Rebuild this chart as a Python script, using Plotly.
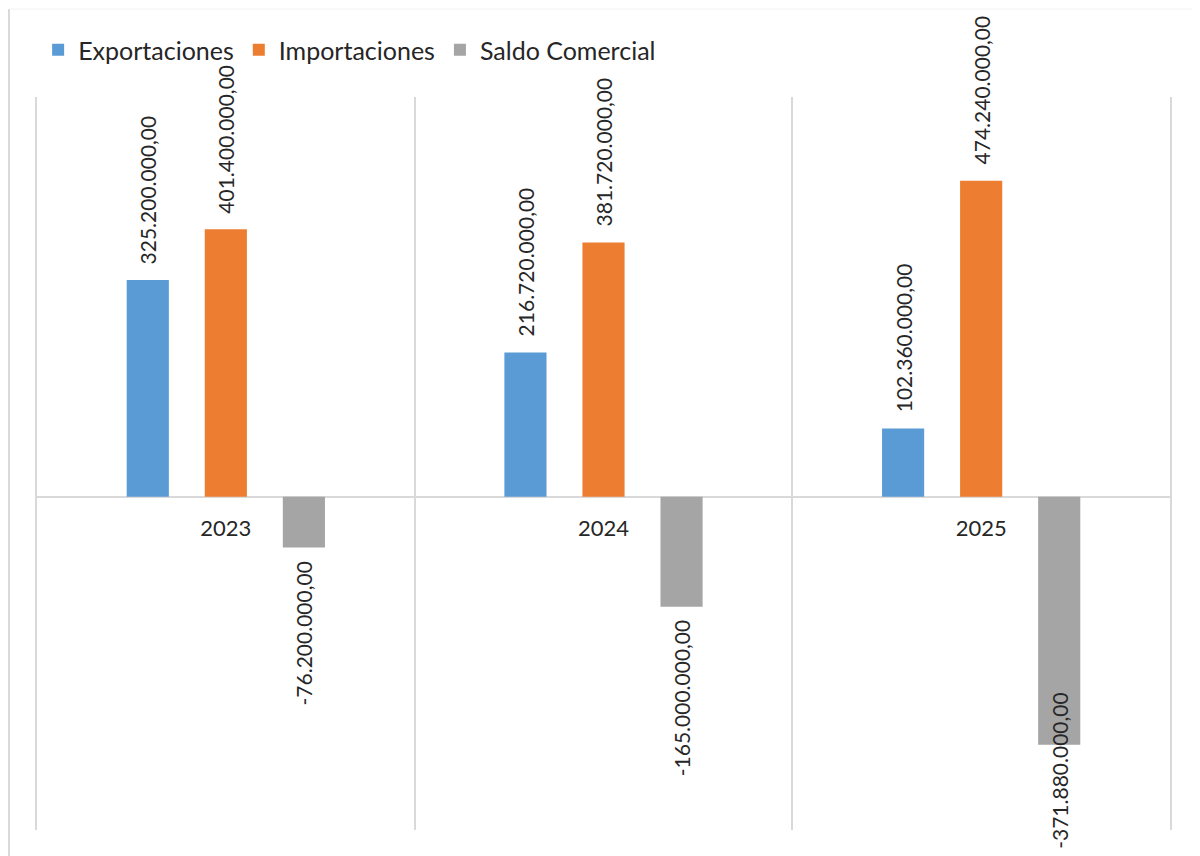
import plotly.graph_objects as go

years = ["2023", "2024", "2025"]
exportaciones = [325_200_000.00, 216_720_000.00, 102_360_000.00]
importaciones = [401_400_000.00, 381_720_000.00, 474_240_000.00]
saldo = [-76_200_000.00, -165_000_000.00, -371_880_000.00]

COLORS = ["#5B9BD5", "#ED7D31", "#A5A5A5"]
FONT = "Lato, 'Open Sans', sans-serif"
TXT = "#262626"
SLOT = 78  # px between bar centres inside a group


def fmt(v):
    # Spanish number format: 325.200.000,00
    s = f"{v:,.2f}"
    return s.replace(",", "X").replace(".", ",").replace("X", ".")


fig = go.Figure()
series = [("Exportaciones", exportaciones), ("Importaciones", importaciones), ("Saldo Comercial", saldo)]
for i, (name, vals) in enumerate(series):
    fig.add_trace(go.Bar(
        x=years, y=vals, name=name,
        marker=dict(color=COLORS[i], line=dict(width=0)),
        hovertemplate="%{x}: %{y:,.2f}<extra>" + name + "</extra>",
    ))
    # value labels, rotated, a bit off the bar end (like the Excel original)
    for j, v in enumerate(vals):
        if v >= 0:
            anchor, shift = "bottom", 14
        elif v < -300_000_000:
            # no room below the plot: label pulled back over the bar end
            anchor, shift = "middle", -26
        else:
            anchor, shift = "top", -12
        fig.add_annotation(
            x=j, y=v, text=fmt(v), textangle=-90, showarrow=False,
            xanchor="center", yanchor=anchor, xshift=(i - 1) * SLOT, yshift=shift,
            font=dict(family=FONT, size=21, color=TXT),
        )

# outer chart border (left/top)
fig.add_shape(type="line", xref="paper", yref="paper", x0=-0.0247, x1=-0.0247, y0=-0.06, y1=1.12,
              line=dict(color="#d9d9d9", width=2))
fig.add_shape(type="line", xref="paper", yref="paper", x0=-0.0247, x1=1.05, y0=1.12, y1=1.12,
              line=dict(color="#f2f2f2", width=1))

last = len(years) - 1
fig.update_layout(
    width=1200, height=856,
    margin=dict(l=29, r=38, t=89, b=34, autoexpand=False),
    paper_bgcolor="white", plot_bgcolor="white",
    barmode="group", bargap=0.38, bargroupgap=0.46,
    font=dict(family=FONT, color=TXT),
    legend=dict(orientation="h", x=0.001, y=1.064, xanchor="left", yanchor="middle",
                font=dict(family=FONT, size=25, color=TXT), itemwidth=30, traceorder="normal"),
    xaxis=dict(type="category", range=[-0.5, last + 0.5], showgrid=True, gridcolor="#d9d9d9", gridwidth=1.5,
               tickson="boundaries", ticks="", showline=False, anchor="free", position=0.4557,
               tickfont=dict(family=FONT, size=22, color=TXT), ticklabelstandoff=17),
    yaxis=dict(range=[-500_000_000, 600_000_000], showgrid=False, showticklabels=False,
               showline=True, mirror=True, linecolor="#d9d9d9", linewidth=1.5,
               zeroline=True, zerolinecolor="#d9d9d9", zerolinewidth=2, ticks=""),
)

fig.write_html("out.html")
